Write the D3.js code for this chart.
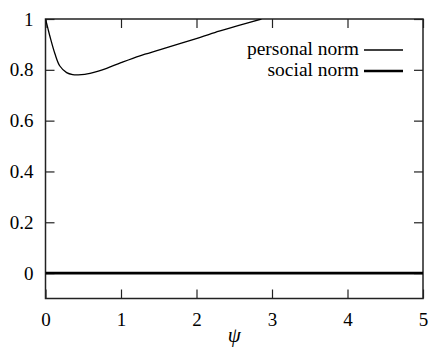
<!DOCTYPE html>
<html><head><meta charset="utf-8">
<script src="https://cdn.jsdelivr.net/npm/d3@7"></script>
<style>
html,body{margin:0;padding:0;background:#fff;}
</style></head>
<body><svg id="c" width="429" height="349"></svg>
<script>
const psiValues = [0, 0.03, 0.06, 0.126, 0.19, 0.28, 0.36, 0.434, 0.52, 0.59, 0.7, 0.81, 1.0, 1.25, 1.52, 1.8, 2.05, 2.3, 2.55, 2.86];
const personalNorm = [1.0, 0.965, 0.93, 0.862, 0.815, 0.789, 0.781, 0.78, 0.782, 0.786, 0.795, 0.806, 0.828, 0.855, 0.879, 0.905, 0.928, 0.952, 0.974, 1.0];
const socialPsi = [0, 5];
const socialNorm = [0, 0];
const xTicks = [0, 1, 2, 3, 4, 5];
const yTicks = [0, 0.2, 0.4, 0.6, 0.8, 1];
const legendLabels = ["personal norm", "social norm"];

const FONT = "Liberation Serif";
const svg = d3.select("#c");
const L = 45.5, R = 423, T = 19, B = 298.5;
const x = d3.scaleLinear().domain([0, 5]).range([L, R]);
const y = d3.scaleLinear().domain([-0.1, 1]).range([B, T]);
const fs = 19;

svg.append("defs").append("clipPath").attr("id", "clip")
  .append("rect").attr("x", L).attr("y", T).attr("width", R - L).attr("height", B - T);

function styleAxis(g) {
  g.attr("font-family", FONT).attr("font-size", fs);
  g.select(".domain").remove();
  g.selectAll(".tick line").attr("stroke", "#222").attr("stroke-width", 1.2);
  g.selectAll("text").attr("font-size", fs).attr("font-family", FONT).attr("fill", "#000");
}

svg.append("g").attr("transform", `translate(${L},0)`)
  .call(d3.axisLeft(y).tickValues(yTicks).tickSize(-9).tickSizeOuter(0).tickPadding(12)
    .tickFormat(d => String(+d.toFixed(1))))
  .call(styleAxis);
svg.append("g").attr("transform", `translate(${R},0)`)
  .call(d3.axisRight(y).tickValues(yTicks).tickSize(-9).tickSizeOuter(0).tickFormat(""))
  .call(styleAxis);
svg.append("g").attr("transform", `translate(0,${B})`)
  .call(d3.axisBottom(x).tickValues(xTicks).tickSize(-9).tickSizeOuter(0).tickPadding(14)
    .tickFormat(d3.format("d")))
  .call(styleAxis);
svg.append("g").attr("transform", `translate(0,${T})`)
  .call(d3.axisTop(x).tickValues(xTicks).tickSize(-9).tickSizeOuter(0).tickFormat(""))
  .call(styleAxis);

svg.append("rect").attr("x", L).attr("y", T).attr("width", R - L).attr("height", B - T)
  .attr("fill", "none").attr("stroke", "#222").attr("stroke-width", 1.5);

const line = d3.line().x(d => x(d[0])).y(d => y(d[1])).curve(d3.curveCatmullRom.alpha(0.5));
const plot = svg.append("g").attr("clip-path", "url(#clip)");
plot.append("path").datum(psiValues.map((p, i) => [p, personalNorm[i]]))
  .attr("d", line).attr("fill", "none").attr("stroke", "#000").attr("stroke-width", 1.3);
plot.append("path").datum(socialPsi.map((p, i) => [p, socialNorm[i]]))
  .attr("d", line).attr("fill", "none").attr("stroke", "#000").attr("stroke-width", 2.6);

// legend
const widths = [1.3, 2.6];
legendLabels.forEach((lab, i) => {
  const ly = 50 + i * 21;
  svg.append("text").attr("x", 359).attr("y", ly + 5).attr("text-anchor", "end")
    .attr("font-family", FONT).attr("font-size", 19.5).text(lab);
  svg.append("line").attr("x1", 364).attr("x2", 403).attr("y1", ly).attr("y2", ly)
    .attr("stroke", "#000").attr("stroke-width", widths[i]);
});

svg.append("text").attr("x", x(2.5)).attr("y", 342).attr("text-anchor", "middle")
  .attr("font-family", FONT).attr("font-size", fs + 2).attr("font-style", "italic").text("ψ");
</script></body></html>
